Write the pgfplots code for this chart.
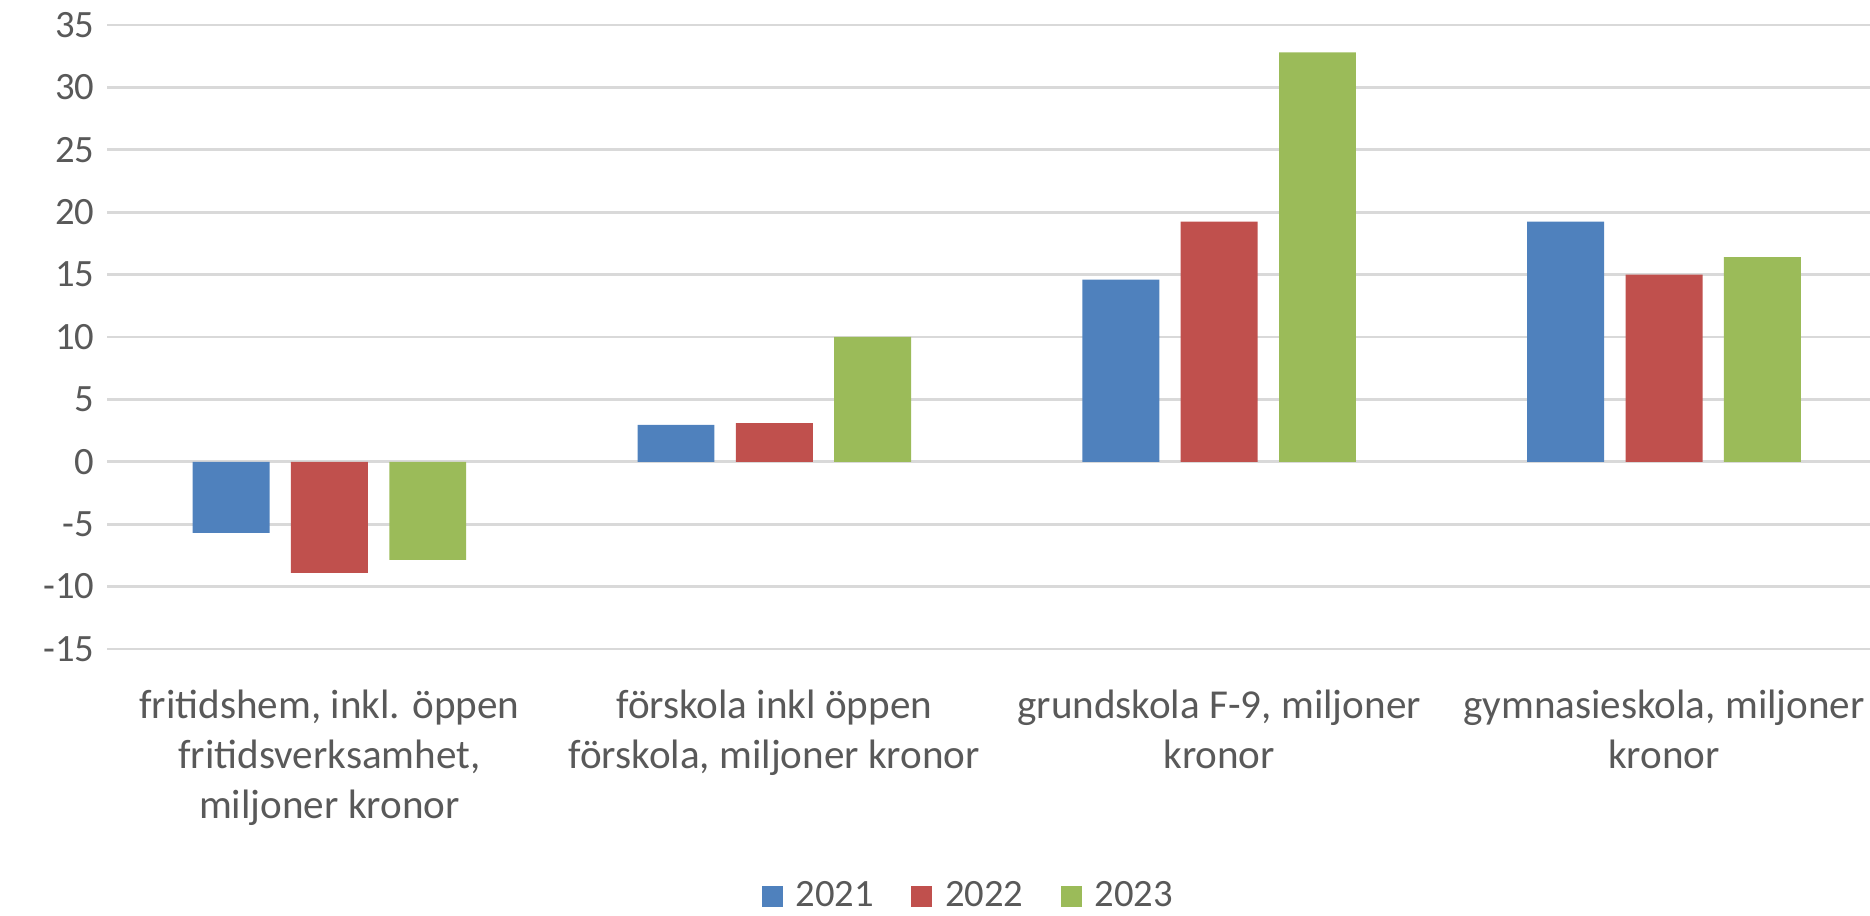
\documentclass[border=0pt]{standalone}
\usepackage{fontspec}
\setmainfont{Carlito}
\usepackage{pgfplots}
\pgfplotsset{compat=1.18}
\definecolor{cblue}{HTML}{4F81BD}
\definecolor{cred}{HTML}{C0504D}
\definecolor{cgreen}{HTML}{9BBB59}
\definecolor{gridgray}{HTML}{D9D9D9}
\definecolor{textgray}{HTML}{595959}
\begin{document}
\begin{tikzpicture}[font=\fontsize{11}{14.2}\selectfont, text=textgray]
\path[use as bounding box] (0,0) rectangle (18.70cm,9.16cm);
\begin{axis}[
  at={(1.07cm,2.67cm)}, anchor=south west,
  width=17.63cm, height=6.24cm, scale only axis,
  xmin=-0.5, xmax=3.463, ymin=-15, ymax=35,
  ytick={-15,-10,-5,0,5,10,15,20,25,30,35},
  yticklabels={-15,-10,-5,0,5,10,15,20,25,30,35},
  xtick={0,1,2,3},
  xticklabels={{fritidshem, inkl. öppen\\fritidsverksamhet,\\miljoner kronor},
               {förskola inkl öppen\\förskola, miljoner kronor},
               {grundskola F-9, miljoner\\kronor},
               {gymnasieskola, miljoner\\kronor}},
  xticklabel style={align=center, anchor=north, inner sep=0pt, yshift=-0.40cm, text=textgray,
    font=\fontsize{11.7}{14.2}\selectfont},
  yticklabel style={anchor=east, inner sep=0pt, xshift=-0.12cm, text=textgray},
  axis line style={draw=none},
  major tick length=0pt,
  ymajorgrids, grid style={color=gridgray, line width=0.75pt},
  legend style={at={(0.488,-0.397)}, anchor=center, draw=none, fill=none,
    legend columns=3, nodes={inner sep=0pt, text=textgray},
    /tikz/every odd column/.append style={column sep=0.13cm},
    /tikz/every even column/.append style={column sep=0.37cm}},
  legend image code/.code={\fill[#1] (0cm,-0.105cm) rectangle (0.21cm,0.105cm);},
]
\addplot[ybar, bar width=0.173, bar shift=-0.221, fill=cblue, draw=none]
  coordinates {(0,-5.7) (1,2.95) (2,14.6) (3,19.25)};
\addplot[ybar, bar width=0.173, bar shift=0, fill=cred, draw=none]
  coordinates {(0,-8.9) (1,3.1) (2,19.25) (3,15.0)};
\addplot[ybar, bar width=0.173, bar shift=0.221, fill=cgreen, draw=none]
  coordinates {(0,-7.85) (1,10.0) (2,32.8) (3,16.4)};
\legend{2021,2022,2023}
\end{axis}
\end{tikzpicture}
\end{document}
